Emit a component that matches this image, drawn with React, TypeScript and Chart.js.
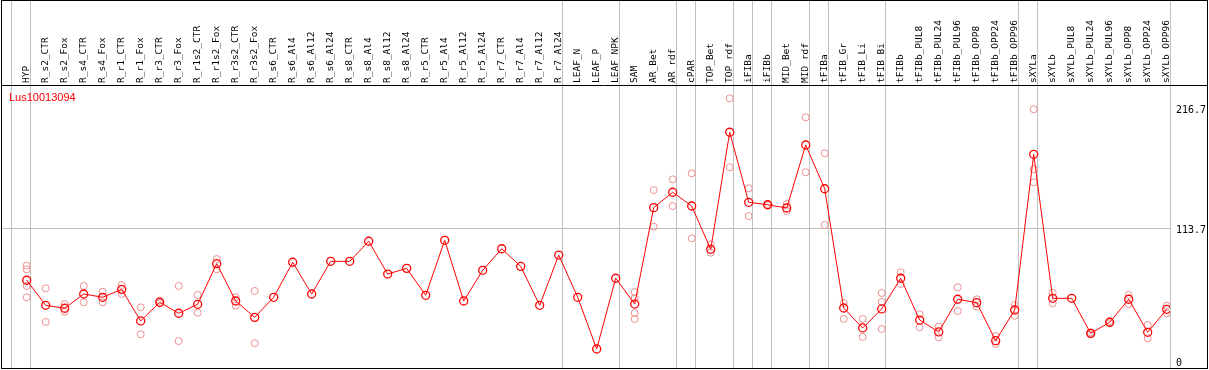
import React, { useEffect, useRef } from "react";
import { Chart, registerables } from "chart.js";

Chart.register(...registerables);

const geneName = "Lus10013094";

const categories = [
  "HYP", "R_s2_CTR", "R_s2_Fox", "R_s4_CTR", "R_s4_Fox", "R_r1_CTR", "R_r1_Fox", "R_r3_CTR", "R_r3_Fox",
  "R_r1s2_CTR", "R_r1s2_Fox", "R_r3s2_CTR", "R_r3s2_Fox", "R_s6_CTR", "R_s6_Al4", "R_s6_Al12", "R_s6_Al24",
  "R_s8_CTR", "R_s8_Al4", "R_s8_Al12", "R_s8_Al24", "R_r5_CTR", "R_r5_Al4", "R_r5_Al12", "R_r5_Al24",
  "R_r7_CTR", "R_r7_Al4", "R_r7_Al12", "R_r7_Al24", "LEAF_N", "LEAF_P", "LEAF_NPK", "SAM", "AR_Bet", "AR_rdf",
  "cPAR", "TOP_Bet", "TOP_rdf", "iFIBa", "iFIBb", "MID_Bet", "MID_rdf", "tFIBa", "tFIB_Gr", "tFIB_Li", "tFIB_Bi",
  "tFIBb", "tFIBb_PUL8", "tFIBb_PUL24", "tFIBb_PUL96", "tFIBb_OPP8", "tFIBb_OPP24", "tFIBb_OPP96",
  "sXYLa", "sXYLb", "sXYLb_PUL8", "sXYLb_PUL24", "sXYLb_PUL96", "sXYLb_OPP8", "sXYLb_OPP24", "sXYLb_OPP96",
];

const means = [
  69.2, 47.7, 45.2, 57.4, 54.6, 61.4, 34.3, 50.3, 40.9,
  48.6, 83.4, 51.4, 37.4, 54.6, 84.6, 57.4, 85.4,
  85.4, 102.6, 74.5, 79.4, 56.3, 103.4, 51.4, 77.7,
  96.2, 81.1, 47.7, 90.8, 54.6, 10.3, 70.9, 48.8, 131.4, 144.6,
  132.8, 95.7, 196.0, 136.0, 133.9, 131.1, 185.1, 147.6, 45.4, 28.3, 44.6,
  70.9, 35.1, 24.9, 52.9, 50.0, 17.4, 43.7,
  177.1, 53.7, 53.7, 23.7, 33.2, 52.9, 24.6, 44.3,
];

const replicates: number[][] = [
  [81.7, 78.6, 64.3, 54.6], [62.3, 33.4], [48.8, 42.2], [64.3, 50.3], [59.4, 50.3], [65.1, 57.4], [46.0, 22.9], [51.7, 49.4], [64.3, 17.1],
  [56.6, 41.4], [87.4, 78.6], [54.6, 47.4], [60.0, 15.2], [], [], [], [],
  [], [], [], [], [], [], [], [],
  [], [], [], [], [], [], [], [59.1, 54.0, 41.1, 36.0], [146.5, 115.1], [155.7, 132.8],
  [160.8, 105.1], [100.0, 92.8], [225.1, 166.0], [148.0, 124.2], [134.5, 133.4], [134.5, 128.5], [208.8, 161.7], [178.0, 116.5], [49.7, 36.0], [36.0, 20.6], [58.3, 50.6, 27.4],
  [76.0, 66.0], [40.0, 28.9], [29.4, 20.3], [63.2, 42.8], [52.9, 46.5], [21.4, 14.6], [48.0, 38.8],
  [215.7, 164.3, 153.1], [58.5, 49.4], [], [24.6, 22.9], [34.0, 32.3], [56.6, 48.8], [30.8, 19.5], [47.4, 40.9],
];

const yTickValues = [0, 113.7, 216.7];
// index of the last category of each group (vertical separators)
const groupEnds = [-1, 0, 28, 31, 34, 35, 37, 38, 39, 41, 42, 45, 52, 53, 60];

const W = 1209;
const H = 370;

const decorPlugin = {
  id: "decor",
  beforeDatasetsDraw(chart: any) {
    const ctx = chart.ctx;
    const xs = chart.scales.x;
    const bottom = chart.chartArea.bottom;
    ctx.save();
    ctx.strokeStyle = "#c0c0c0";
    ctx.lineWidth = 1;
    groupEnds.forEach((g) => {
      const px = Math.round(xs.getPixelForValue(g) + 3.5) + 0.5;
      ctx.beginPath();
      ctx.moveTo(px, 0);
      ctx.lineTo(px, bottom);
      ctx.stroke();
    });
    ctx.restore();
  },
  afterDraw(chart: any) {
    const ctx = chart.ctx;
    const area = chart.chartArea;
    ctx.save();
    ctx.strokeStyle = "#000";
    ctx.lineWidth = 1;
    ctx.strokeRect(1.5, 0.5, W - 3, H - 2);
    ctx.beginPath();
    ctx.moveTo(1, area.top + 0.5);
    ctx.lineTo(W - 1, area.top + 0.5);
    ctx.stroke();
    ctx.fillStyle = "#ff0000";
    ctx.font = "11px 'Liberation Sans'";
    ctx.textAlign = "left";
    ctx.textBaseline = "alphabetic";
    ctx.fillText(geneName, 9, 101);
    ctx.restore();
  },
};

export default function App() {
  const ref = useRef<HTMLCanvasElement | null>(null);

  useEffect(() => {
    if (!ref.current) return;
    const meanData = means.map((v, i) => ({ x: i, y: v }));
    const repData: { x: number; y: number }[] = [];
    replicates.forEach((arr, i) => arr.forEach((v) => repData.push({ x: i, y: v })));

    const chart = new Chart(ref.current, {
      type: "line",
      data: {
        datasets: [
          {
            label: "mean",
            data: meanData,
            borderColor: "#ff0000",
            borderWidth: 1,
            tension: 0,
            pointRadius: 4,
            pointBorderWidth: 1.3,
            pointBorderColor: "#ff0000",
            pointBackgroundColor: "rgba(0,0,0,0)",
            order: 0,
          },
          {
            label: "replicates",
            data: repData,
            showLine: false,
            pointRadius: 3.5,
            pointBorderWidth: 1,
            pointBorderColor: "#ee8e8e",
            pointBackgroundColor: "rgba(0,0,0,0)",
            order: 1,
          },
        ],
      },
      options: {
        animation: false,
        responsive: false,
        devicePixelRatio: 1,
        layout: { autoPadding: false, padding: { left: 2, right: 0, top: 0, bottom: 1 } },
        plugins: { legend: { display: false }, tooltip: { enabled: false }, title: { display: false } },
        scales: {
          x: {
            type: "linear",
            position: "top",
            min: -1.3,
            max: 60.174,
            bounds: "data",
            afterBuildTicks: (s: any) => {
              s.ticks = categories.map((_, i) => ({ value: i }));
            },
            afterFit: (s: any) => {
              s.height = 85;
              s.paddingLeft = 0;
              s.paddingRight = 0;
            },
            grid: { display: false, drawTicks: false },
            border: { display: false },
            ticks: {
              autoSkip: false,
              minRotation: 90,
              maxRotation: 90,
              padding: 2,
              labelOffset: 11.4,
              color: "#000",
              font: { family: "'DejaVu Sans Mono'", size: 9.5 },
              callback: (v: any) => categories[v as number] ?? "",
            },
          },
          y: {
            type: "linear",
            position: "right",
            min: -6.855,
            max: 236.5,
            bounds: "data",
            afterBuildTicks: (s: any) => {
              s.ticks = yTickValues.map((v) => ({ value: v }));
            },
            afterFit: (s: any) => {
              s.width = 39;
              s.paddingTop = 0;
              s.paddingBottom = 0;
            },
            grid: {
              drawTicks: false,
              color: (c: any) => (c.tick && c.tick.value === 113.7 ? "#c0c0c0" : "rgba(0,0,0,0)"),
              lineWidth: 1,
            },
            border: { display: false },
            ticks: {
              padding: 6,
              labelOffset: 2,
              color: "#000",
              font: { family: "'DejaVu Sans Mono'", size: 10 },
              callback: (v: any) => String(v),
            },
          },
        },
      },
      plugins: [decorPlugin],
    });
    return () => chart.destroy();
  }, []);

  return (
    <div style={{ position: "fixed", left: 0, top: 0, width: W, height: H, background: "#fff" }}>
      <canvas ref={ref} width={W} height={H} style={{ display: "block", width: W, height: H }} />
    </div>
  );
}
